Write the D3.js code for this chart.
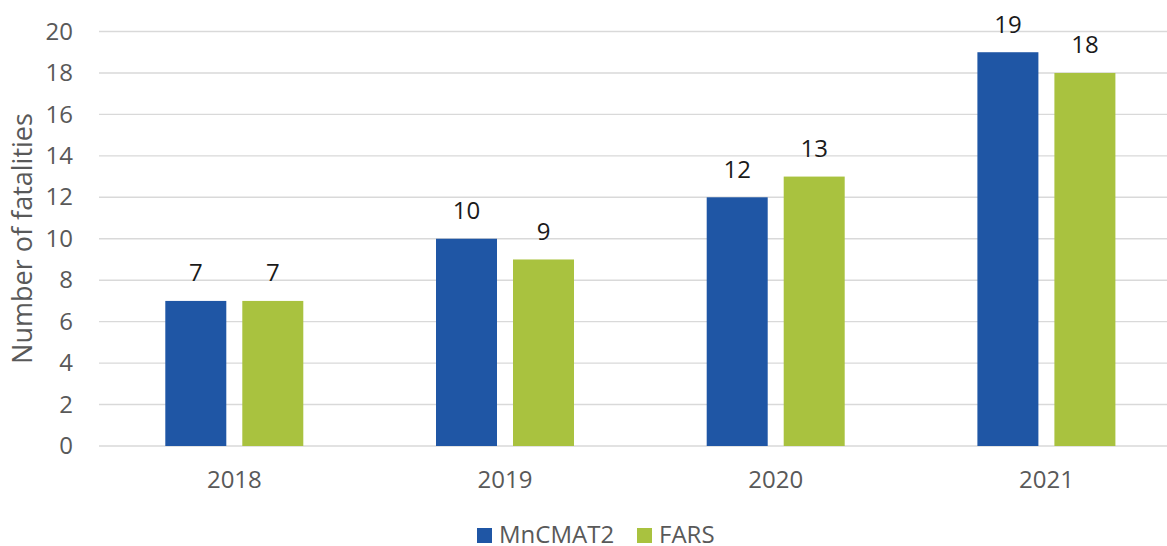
<!DOCTYPE html>
<html>
<head>
<meta charset="utf-8">
<script src="https://cdn.jsdelivr.net/npm/d3@7"></script>
<style>
  body { margin: 0; background: #fff; }
  svg text { font-family: "Open Sans", sans-serif; }
</style>
</head>
<body>
<div id="chart"></div>
<script>
// data
let years = ['2018', '2019', '2020', '2021'];
let seriesNames = ['MnCMAT2', 'FARS'];
let mncmat2 = [7, 10, 12, 19];
let fars = [7, 9, 13, 18];
let yTicks = [0, 2, 4, 6, 8, 10, 12, 14, 16, 18, 20];
let colors = ['#1f56a5', '#a9c23f'];

let width = 1167,
  height = 546;

let svg = d3.select('#chart')
  .append('svg')
  .attr('width', width)
  .attr('height', height);

// plot area runs past the right edge of the picture (it is cropped)
let x = d3.scaleBand()
  .domain(years)
  .range([99, 1181.8])
  .paddingInner(0)
  .paddingOuter(0);

let xInner = d3.scaleBand()
  .domain(seriesNames)
  .range([66.3, 66.3 + 138])
  .paddingInner(16 / 77)
  .paddingOuter(0);

let y = d3.scaleLinear()
  .domain([0, 20])
  .range([446, 31.5]);

// gridlines
svg.append('g')
  .selectAll('line')
  .data(yTicks)
  .enter()
  .append('line')
  .attr('x1', 99)
  .attr('x2', width)
  .attr('y1', d => y(d))
  .attr('y2', d => y(d))
  .attr('stroke', '#d9d9d9')
  .attr('stroke-width', 1.4);

// y axis labels
let yAxis = d3.axisLeft(y).tickValues(yTicks).tickSize(0).tickPadding(0);
svg.append('g')
  .attr('transform', 'translate(73,0)')
  .call(yAxis)
  .call(g => g.select('.domain').remove())
  .selectAll('text')
  .attr('font-size', '24px')
  .attr('fill', '#595959')
  .attr('font-family', '"Open Sans", sans-serif');

// x axis labels
let xAxis = d3.axisBottom(x).tickSize(0).tickPadding(0);
svg.append('g')
  .attr('transform', 'translate(0,471)')
  .call(xAxis)
  .call(g => g.select('.domain').remove())
  .selectAll('text')
  .attr('font-size', '24px')
  .attr('fill', '#595959')
  .attr('font-family', '"Open Sans", sans-serif');

// y title
svg.append('text')
  .attr('transform', 'translate(32,238.5) rotate(-90)')
  .attr('text-anchor', 'middle')
  .attr('font-size', '27px')
  .attr('fill', '#595959')
  .text('Number of fatalities');

// bars
let series = [mncmat2, fars];
let groups = svg.append('g')
  .selectAll('g')
  .data(series)
  .enter()
  .append('g')
  .attr('fill', (d, i) => colors[i]);

groups.each(function (vals, si) {
  let g = d3.select(this);
  g.selectAll('rect')
    .data(vals)
    .enter()
    .append('rect')
    .attr('x', (d, i) => x(years[i]) + xInner(seriesNames[si]))
    .attr('y', d => y(d))
    .attr('width', xInner.bandwidth())
    .attr('height', d => y(0) - y(d));

  g.selectAll('text')
    .data(vals)
    .enter()
    .append('text')
    .attr('x', (d, i) => x(years[i]) + xInner(seriesNames[si]) + xInner.bandwidth() / 2)
    .attr('y', d => y(d) - 19.5)
    .attr('text-anchor', 'middle')
    .attr('font-size', '24px')
    .attr('fill', '#1a1a1a')
    .text(d => d);
});

// legend
let legendX = [477, 637];
let legend = svg.append('g')
  .selectAll('g')
  .data(seriesNames)
  .enter()
  .append('g')
  .attr('transform', (d, i) => 'translate(' + legendX[i] + ',528)');

legend.append('rect')
  .attr('width', 15)
  .attr('height', 15)
  .attr('fill', (d, i) => colors[i]);

legend.append('text')
  .attr('x', 22)
  .attr('y', 15)
  .attr('font-size', '24px')
  .attr('fill', '#595959')
  .text(d => d);
</script>
</body>
</html>
